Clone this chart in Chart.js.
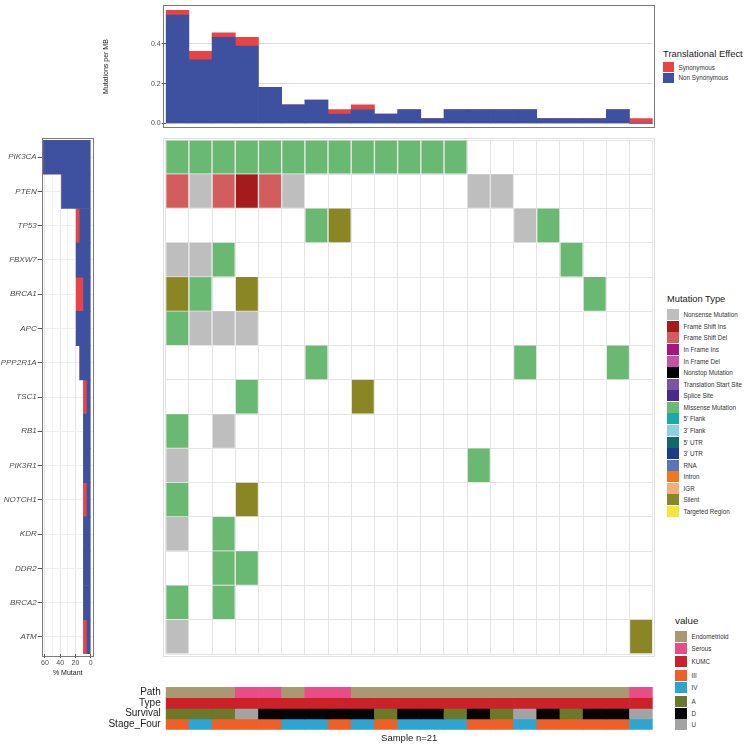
<!DOCTYPE html>
<html>
<head>
<meta charset="utf-8">
<script src="https://cdn.jsdelivr.net/npm/chart.js@4.4.1/dist/chart.umd.min.js"></script>
<style>
  body { margin: 0; background: #fff; font-family: "Liberation Sans", Arial, sans-serif; }
  #wrap { position: relative; width: 746px; height: 746px; overflow: hidden; }
  canvas { position: absolute; }
  .legend { position: absolute; color: #1a1a1a; white-space: nowrap; }
  .legend .title { position: absolute; left: 0; }
  .legend .item { position: absolute; display: flex; align-items: center; font-size: 6.3px; color: #333; }
  .legend .sw { width: 11.5px; height: 11px; margin-right: 5px; }
</style>
</head>
<body>
<div id="wrap">
  <canvas id="topChart" width="560" height="136" style="left:100px;top:0px"></canvas>
  <canvas id="geneChart" width="100" height="560" style="left:0px;top:120px"></canvas>
  <canvas id="mainChart" width="500" height="525" style="left:160px;top:135px"></canvas>
  <canvas id="clinChart" width="560" height="70" style="left:100px;top:676px"></canvas>
  <div class="legend" id="legTop" style="left:663px;top:48px"></div>
  <div class="legend" id="legMut" style="left:667px;top:294px"></div>
  <div class="legend" id="legVal" style="left:675px;top:615px"></div>
</div>
<script>
Chart.defaults.font.family = "'Liberation Sans', Arial, sans-serif";
Chart.defaults.animation = false;

// samples (x) and genes (rows)
const samples = ["S1","S2","S3","S4","S5","S6","S7","S8","S9","S10","S11",
  "S12","S13","S14","S15","S16","S17","S18","S19","S20","S21"];
const genes = ["PIK3CA","PTEN","TP53","FBXW7","BRCA1","APC","PPP2R1A","TSC1",
  "RB1","PIK3R1","NOTCH1","KDR","DDR2","BRCA2","ATM"];

// mutation burden per sample (top panel)
const nonSynPerMB = [0.545,0.32,0.433,0.389,0.182,0.093,0.117,0.047,0.07,0.047,0.07,
  0.024,0.07,0.07,0.07,0.07,0.024,0.024,0.024,0.07,0];
const synPerMB = [0.024,0.043,0.023,0.044,0,0,0,0.023,0.023,0,0,
  0,0,0,0,0,0,0,0,0,0.024];

// % of samples mutated per gene (left panel)
const pctNonSyn = [61.9,38.1,14.3,19.0,9.5,19.0,14.3,4.8,9.5,9.5,4.8,9.5,9.5,9.5,4.8];
const pctSyn = [0,0,4.8,0,9.5,0,0,4.8,0,0,4.8,0,0,0,4.8];

// cells, one string per gene: M missense, N nonsense, I fs ins, D fs del, S silent
const cellRows = [
  "MMMMMMMMMMMMM........",
  "DNDIDN.......NN......",
  "......MS.......NM....",
  "NNM..............M...",
  "SM.S..............M..",
  "MNNN.................",
  "......M........M...M.",
  "...M....S............",
  "M.N..................",
  "N............M.......",
  "M..S.................",
  "N.M..................",
  "..MM.................",
  "M.M..................",
  "N...................S"
];
const codeToType = { M: "Missense Mutation", N: "Nonsense Mutation", I: "Frame Shift Ins",
  D: "Frame Shift Del", S: "Silent" };

const mutTypes = ["Nonsense Mutation","Frame Shift Ins","Frame Shift Del","In Frame Ins",
  "In Frame Del","Nonstop Mutation","Translation Start Site","Splice Site","Missense Mutation",
  "5' Flank","3' Flank","5' UTR","3' UTR","RNA","Intron","IGR","Silent","Targeted Region"];
const mutColors = ["#BEBEBE","#A51A1A","#D35C5C","#A8137F","#C552A8","#000000","#7A55A3",
  "#4B2A8C","#6AB972","#1AA9A7","#8DD1DE","#0D6A67","#1D3A8E","#5874BA","#EE7720","#F4AD7B",
  "#898623","#F2E83A"];

// clinical tracks
const tracks = ["Path","Type","Survival","Stage_Four"];
const pathVals = ["Endometrioid","Endometrioid","Endometrioid","Serous","Serous","Endometrioid",
  "Serous","Serous","Endometrioid","Endometrioid","Endometrioid","Endometrioid","Endometrioid",
  "Endometrioid","Endometrioid","Endometrioid","Endometrioid","Endometrioid","Endometrioid",
  "Endometrioid","Serous"];
const typeVals = ["KUMC","KUMC","KUMC","KUMC","KUMC","KUMC","KUMC","KUMC","KUMC","KUMC","KUMC",
  "KUMC","KUMC","KUMC","KUMC","KUMC","KUMC","KUMC","KUMC","KUMC","KUMC"];
const survivalVals = ["A","A","A","U","D","D","D","D","D","A","D","D","A","D","A","U","D","A","D","D","U"];
const stageVals = ["III","IV","III","III","III","IV","IV","III","IV","III","IV","IV","IV",
  "III","III","IV","III","III","III","III","IV"];
const clinLevels = ["Endometrioid","Serous","KUMC","III","IV","A","D","U"];
const clinColors = ["#AA9872","#E94C86","#CC2129","#EE6025","#2CA6D1","#6A7A2A","#050505","#A3A3A3"];

const synColor = "#E84444";
const nonSynColor = "#3E51A0";

// outline around the plot area, optionally pushed out a little
function panelBox(color, ex, ey) {
  return {
    id: "panelBox",
    afterDraw(chart) {
      const a = chart.chartArea, c = chart.ctx;
      c.save();
      c.strokeStyle = color;
      c.lineWidth = 1;
      c.strokeRect(Math.round(a.left - ex) + 0.5, Math.round(a.top - ey) + 0.5,
        Math.round(a.right - a.left + 2 * ex) - 1, Math.round(a.bottom - a.top + 2 * ey) - 1);
      c.restore();
    }
  };
}

const noPlugins = { legend: { display: false }, tooltip: { enabled: false } };

// top: mutations per MB
new Chart(document.getElementById("topChart"), {
  type: "bar",
  data: {
    labels: samples,
    datasets: [
      { label: "Non Synonymous", data: nonSynPerMB, backgroundColor: nonSynColor },
      { label: "Synonymous", data: synPerMB, backgroundColor: synColor }
    ]
  },
  options: {
    responsive: false,
    layout: { padding: { top: 2, right: 7.3, bottom: 8 } },
    plugins: noPlugins,
    datasets: { bar: { barPercentage: 1, categoryPercentage: 1, borderWidth: 0 } },
    scales: {
      x: { stacked: true, display: false },
      y: {
        stacked: true, min: -0.023, max: 0.5946,
        afterBuildTicks: (s) => { s.ticks = [0, 0.2, 0.4].map((v) => ({ value: v })); },
        afterFit: (s) => { s.width = 65.7; },
        ticks: { font: { size: 7 }, color: "#4d4d4d", padding: 1,
          callback: (v) => Number(v).toFixed(1) },
        grid: { color: "#dcdcdc", tickLength: 4, tickColor: "#555" },
        border: { display: false },
        title: { display: true, text: "Mutations per MB", font: { size: 7 }, color: "#1a1a1a",
          padding: { top: 2, bottom: 0 } }
      }
    }
  },
  plugins: [panelBox("#7a7a7a", 2.3, 0)]
});

// left: % mutant per gene
new Chart(document.getElementById("geneChart"), {
  type: "bar",
  data: {
    labels: genes,
    datasets: [
      { label: "Non Synonymous", data: pctNonSyn, backgroundColor: nonSynColor },
      { label: "Synonymous", data: pctSyn, backgroundColor: synColor }
    ]
  },
  options: {
    responsive: false,
    indexAxis: "y",
    layout: { padding: { top: 20, right: 6.3 } },
    plugins: noPlugins,
    datasets: { bar: { barPercentage: 1, categoryPercentage: 1, borderWidth: 0 } },
    scales: {
      x: {
        stacked: true, reverse: true, min: -3.94, max: 64.33,
        afterBuildTicks: (s) => { s.ticks = [0, 10, 20, 30, 40, 50, 60].map((v) => ({ value: v })); },
        afterFit: (s) => { s.height = 26; },
        ticks: { font: { size: 7 }, color: "#4d4d4d", padding: 1, autoSkip: false,
          maxRotation: 0, minRotation: 0,
          callback: (v) => (v % 20 === 0 ? String(v) : "") },
        grid: {
          tickLength: 4,
          color: (ctx) => (ctx.tick && ctx.tick.value % 20 === 0 ? "#e6e6e6" : "#f2f2f2"),
          tickColor: (ctx) => (ctx.tick && ctx.tick.value % 20 === 0 ? "#555" : "rgba(0,0,0,0)")
        },
        border: { display: false },
        title: { display: true, text: "% Mutant", font: { size: 7 }, color: "#1a1a1a",
          padding: { top: 0, bottom: 3 } }
      },
      y: {
        stacked: true,
        afterFit: (s) => { s.width = 41.7; },
        ticks: { font: { size: 8, style: "italic" }, color: "#4d4d4d", padding: 1 },
        grid: { offset: false, color: "#eeeeee", tickLength: 4, tickColor: "#555" },
        border: { display: false }
      }
    }
  },
  plugins: [panelBox("#7a7a7a", 0, 2.5)]
});

// main: mutation tiles, one floating-bar dataset per gene
const mainSets = genes.map((g, gi) => {
  const codes = cellRows[gi].split("");
  return {
    label: g,
    data: codes.map((c) => (c === "." ? null : [gi, gi + 1])),
    backgroundColor: codes.map((c) =>
      c === "." ? "rgba(0,0,0,0)" : mutColors[mutTypes.indexOf(codeToType[c])]),
    borderColor: "rgba(235,235,235,0.55)",
    borderWidth: 1
  };
});

new Chart(document.getElementById("mainChart"), {
  type: "bar",
  data: { labels: samples, datasets: mainSets },
  options: {
    responsive: false,
    layout: { padding: { left: 5.7, right: 7.3, top: 5, bottom: 6 } },
    plugins: noPlugins,
    datasets: { bar: { barPercentage: 1, categoryPercentage: 1, grouped: false } },
    scales: {
      x: {
        afterFit: (s) => { s.height = 0; },
        ticks: { display: false },
        grid: { offset: true, color: "#e4e4e4", drawTicks: false },
        border: { display: false }
      },
      y: {
        reverse: true, min: 0, max: 15,
        afterBuildTicks: (s) => {
          s.ticks = genes.map((g, i) => ({ value: i })).concat([{ value: 15 }]);
        },
        afterFit: (s) => { s.width = 0; },
        ticks: { display: false },
        grid: { color: "#e4e4e4", drawTicks: false },
        border: { display: false }
      }
    }
  },
  plugins: [panelBox("#e0e0e0", 2.3, 2.5)]
});

// bottom: clinical tracks
const clinRows = [pathVals, typeVals, survivalVals, stageVals];
const clinSets = clinRows.map((vals, ti) => ({
  label: tracks[ti],
  data: vals.map(() => [ti, ti + 1]),
  backgroundColor: vals.map((v) => clinColors[clinLevels.indexOf(v)]),
  borderWidth: 0
}));

new Chart(document.getElementById("clinChart"), {
  type: "bar",
  data: { labels: samples, datasets: clinSets },
  options: {
    responsive: false,
    layout: { padding: { top: 8.3, right: 7.3 } },
    plugins: noPlugins,
    datasets: { bar: { barPercentage: 1, categoryPercentage: 1, grouped: false } },
    scales: {
      x: {
        afterFit: (s) => { s.height = 16.3; },
        ticks: { display: false },
        grid: { display: false },
        border: { display: false },
        title: { display: true, text: "Sample n=21", font: { size: 9.5 }, color: "#1a1a1a",
          padding: { top: 0, bottom: 2 } }
      },
      y: {
        reverse: true, min: 0, max: 4,
        afterBuildTicks: (s) => { s.ticks = tracks.map((t, i) => ({ value: i + 0.5 })); },
        afterFit: (s) => { s.width = 65.7; },
        ticks: { font: { size: 10 }, color: "#1a1a1a", padding: 5, autoSkip: false,
          callback: (v) => tracks[Math.floor(v)] },
        grid: { display: false, drawTicks: false },
        border: { display: false }
      }
    }
  }
});

// legends
function buildLegend(id, title, titleSize, labels, colors, tops, labelSize, swW, swH) {
  const box = document.getElementById(id);
  const t = document.createElement("div");
  t.className = "title";
  t.style.fontSize = titleSize + "px";
  t.style.top = "0px";
  t.textContent = title;
  box.appendChild(t);
  labels.forEach((lab, i) => {
    const it = document.createElement("div");
    it.className = "item";
    it.style.top = tops[i] + "px";
    it.style.fontSize = labelSize + "px";
    const sw = document.createElement("span");
    sw.className = "sw";
    sw.style.background = colors[i];
    sw.style.width = swW + "px";
    sw.style.height = swH + "px";
    it.appendChild(sw);
    it.appendChild(document.createTextNode(lab));
    box.appendChild(it);
  });
}

buildLegend("legTop", "Translational Effect", 9.4, ["Synonymous", "Non Synonymous"],
  [synColor, nonSynColor], [14, 24.6], 6.3, 10.5, 10);
buildLegend("legMut", "Mutation Type", 9.3, mutTypes, mutColors,
  mutTypes.map((m, i) => 15.3 + i * 11.57), 6.3, 11.5, 11);
buildLegend("legVal", "value", 9.8, clinLevels, clinColors,
  [15.7, 28.3, 41, 55, 67, 81, 93, 104.3], 6.3, 11.5, 11);
</script>
</body>
</html>
